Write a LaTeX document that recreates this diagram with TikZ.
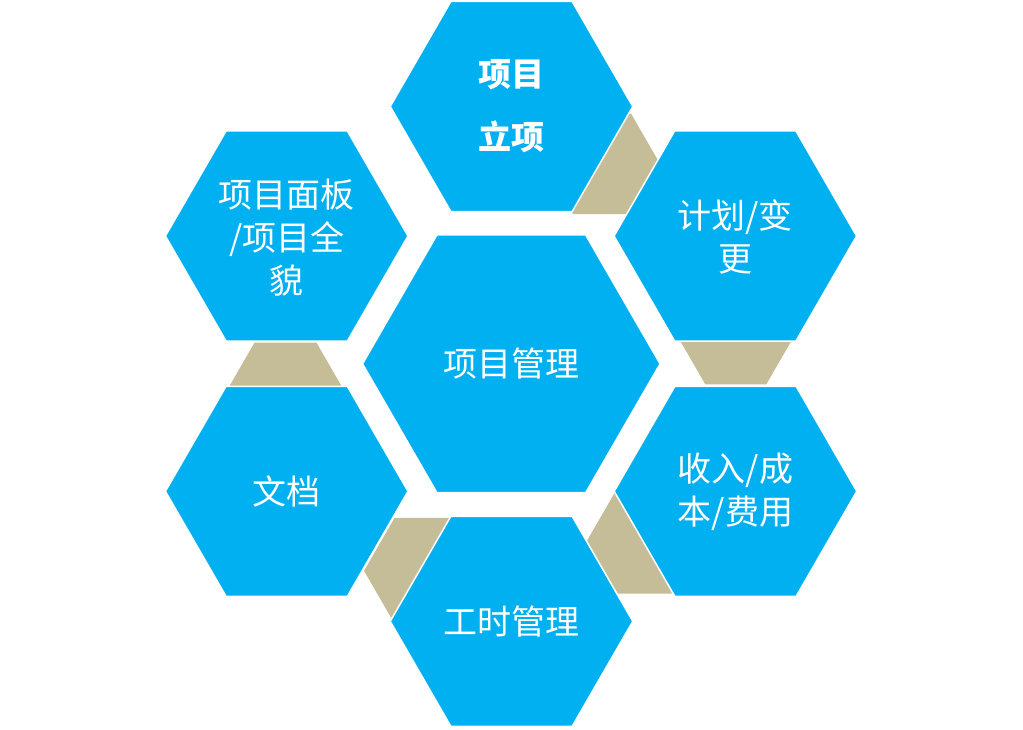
\documentclass[tikz,border=0pt]{standalone}
\usepackage{fontspec}
\setmainfont{Noto Sans CJK SC}
\definecolor{hexblue}{HTML}{00B0F0}
\definecolor{hextan}{HTML}{C4BD97}
\newcommand\hexat[4]{\path[#4] (#1,#2) +(0:#3) -- +(60:#3) -- +(120:#3) -- +(180:#3) -- +(240:#3) -- +(300:#3) -- cycle;}
\begin{document}
\begin{tikzpicture}[x=1pt,y=-1pt,
  bighex/.style={fill=hexblue,draw=white,line width=1.5pt},
  tanhex/.style={fill=hextan},
  lbl/.style={text=white,align=center,inner sep=0pt,font=\fontsize{34}{43}\selectfont}]
\useasboundingbox (0,0) rectangle (1023,729);
% tan transition hexagons (behind)
\hexat{602}{163.8}{58}{tanhex}
\hexat{735.8}{331.5}{61}{tanhex}
\hexat{648}{540.7}{61}{tanhex}
\hexat{425}{570.8}{61}{tanhex}
\hexat{285.5}{396.4}{62}{tanhex}
% blue hexagons
\hexat{511.3}{363.8}{148.8}{bighex}
\hexat{511.5}{106.5}{121.3}{bighex}
\hexat{735.3}{236}{121.3}{bighex}
\hexat{735.5}{491.3}{121.3}{bighex}
\hexat{511.5}{621.3}{121.3}{bighex}
\hexat{286.7}{491.3}{121.3}{bighex}
\hexat{286.7}{236}{121.3}{bighex}
% labels
\node[lbl] (center) at (511.3,363.8) {项目管理};
\node[lbl,font=\fontsize{33}{63}\selectfont\bfseries] (lixiang) at (511.5,106.5) {项目\\立项};
\node[lbl] (jihua) at (735.3,237) {计划/变\\更};
\node[lbl] (shouru) at (735.5,491.3) {收入/成\\本/费用};
\node[lbl] (gongshi) at (511.5,622) {工时管理};
\node[lbl] (wendang) at (286.7,491.3) {文档};
\node[lbl] (mianban) at (286.7,237.5) {项目面板\\/项目全\\貌};
\end{tikzpicture}
\end{document}
